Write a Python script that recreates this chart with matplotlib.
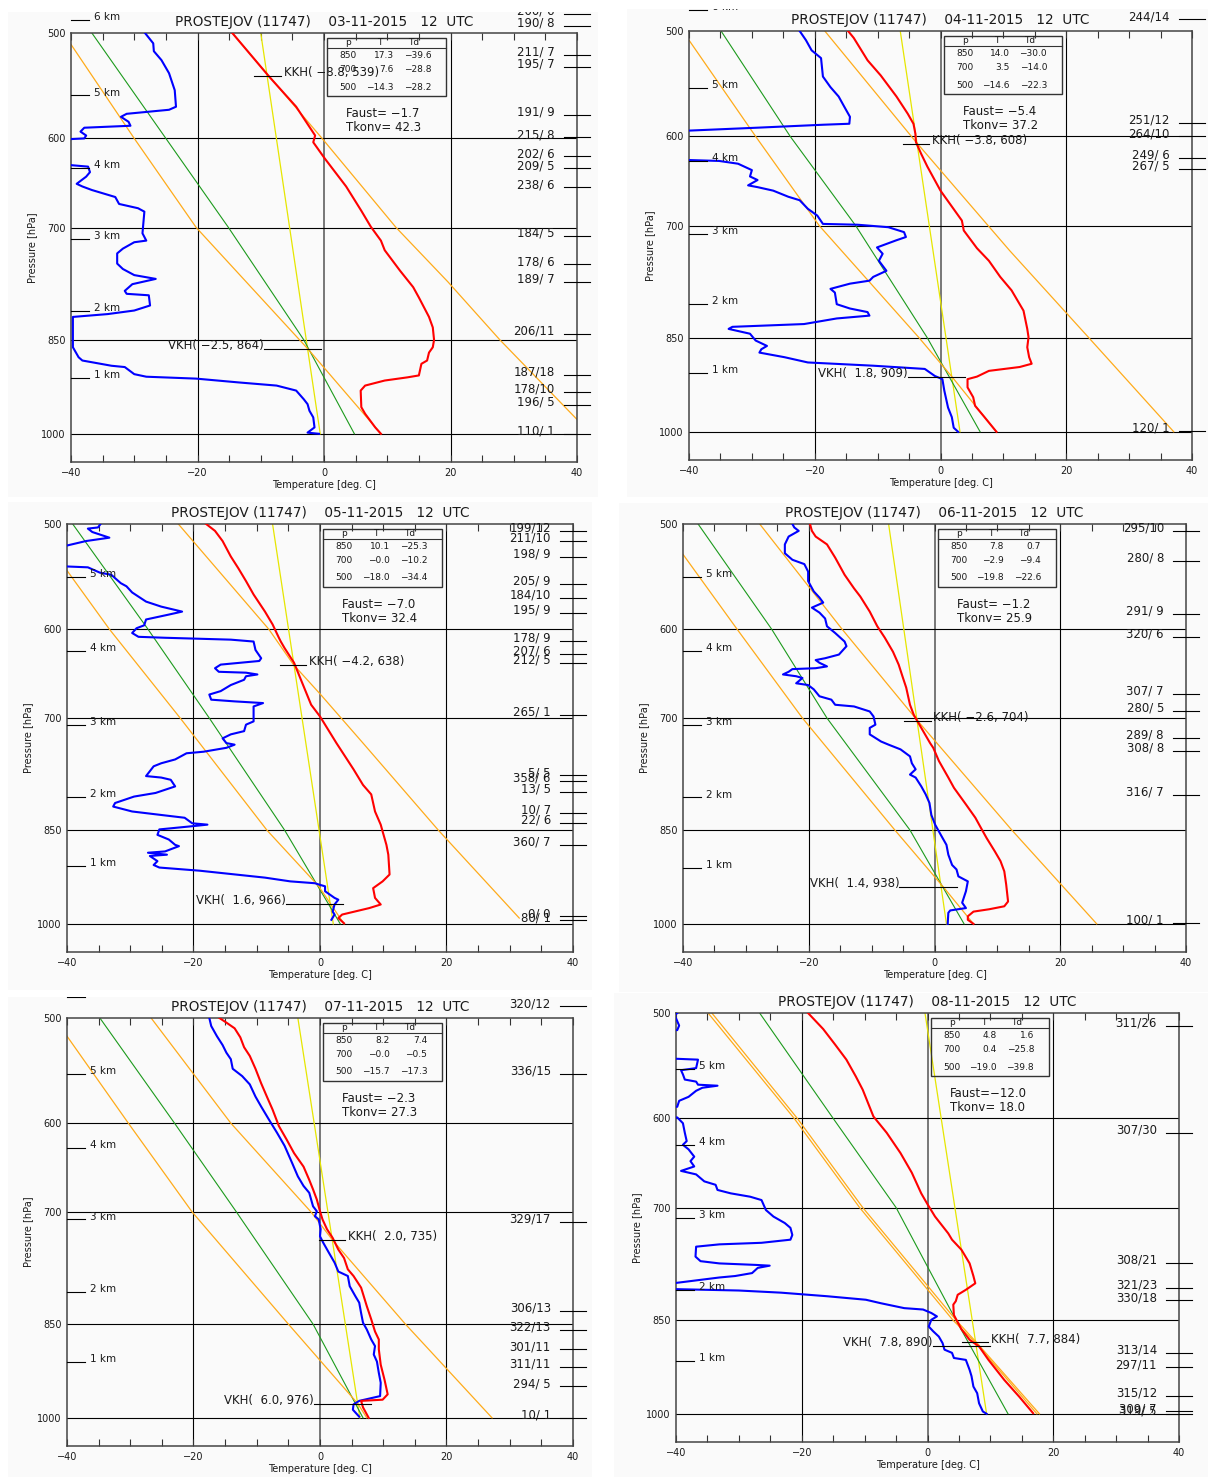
import matplotlib
matplotlib.use("Agg")
import matplotlib.pyplot as plt
from matplotlib.patches import Rectangle
from matplotlib.ticker import FixedLocator, NullLocator, MultipleLocator

plt.rcParams['font.family'] = ['DejaVu Sans']

station = "PROSTEJOV (11747)"
dates = ["03-11-2015", "04-11-2015", "05-11-2015",
         "06-11-2015", "07-11-2015", "08-11-2015"]

# ---------------- 03-11-2015 ----------------
temp_03 = [(500, -14.5), (539, -8.7), (568, -4.4), (597, -1.4), (604, -1.7), (621, 0.1),
           (652, 3.5), (680, 5.9), (699, 7.4), (716, 9.0), (728, 9.6), (754, 12.0),
           (776, 14.1), (790, 15.0), (817, 16.6), (832, 17.2), (850, 17.4), (861, 17.2),
           (869, 16.6), (881, 16.3), (886, 15.4), (904, 15.0), (907, 13.2), (912, 9.6),
           (920, 6.5), (928, 5.8), (955, 5.9), (966, 6.5), (989, 8.1), (1000, 9.0)]
dew_03 = [(500, -28.3), (509, -27.0), (516, -26.9), (524, -25.7), (536, -24.5), (552, -23.6),
          (568, -23.4), (571, -24.5), (575, -31.2), (578, -32.1), (583, -30.9), (587, -30.6),
          (589, -37.9), (593, -38.5), (597, -37.6), (600, -37.9), (602, -44), (626, -44),
          (630, -37.3), (636, -37.0), (641, -37.6), (649, -39.1), (652, -38.2), (656, -36.7),
          (664, -33.0), (672, -32.4), (677, -29.4), (681, -28.4), (707, -28.7), (716, -28.1),
          (718, -30.0), (726, -31.8), (732, -32.7), (745, -32.7), (752, -31.8), (760, -30.0),
          (765, -26.6), (772, -30.3), (781, -31.5), (785, -31.2), (787, -27.7), (801, -27.5),
          (808, -30.0), (813, -34.2), (817, -39.7), (861, -39.7), (876, -38.8), (881, -38.2),
          (889, -33.6), (891, -31.5), (902, -30.0), (906, -28.1), (909, -20.2), (915, -13.5),
          (920, -7.5), (928, -4.4), (942, -3.2), (950, -2.6), (961, -2.3), (972, -1.7),
          (989, -1.5), (998, -2.6), (1000, -0.8)]
yellow_03 = [(500, -10.0), (1000, -0.6)]
green_03 = [(500, -36.7), (600, -25.0), (700, -15.1), (850, -3.2), (1000, 4.8)]
orange_03 = [[(510, -40), (600, -30.0), (700, -20.2), (864, -2.5), (1000, 9.0)],
             [(500, -14.5), (600, -0.3), (700, 11.4), (769, 19.6), (850, 27.8), (1000, 42.2)]]
wind_03 = [("200/ 6", 484), ("190/ 8", 494), ("211/ 7", 519), ("195/ 7", 530),
           ("191/ 9", 576), ("215/ 8", 599), ("202/ 6", 619), ("209/ 5", 632),
           ("238/ 6", 653), ("184/ 5", 710), ("178/ 6", 746), ("189/ 7", 769),
           ("206/11", 841), ("187/18", 903), ("178/10", 930), ("196/ 5", 951),
           ("110/ 1", 1000)]
km_03 = [(6, 489), (5, 557), (4, 631), (3, 714), (2, 809), (1, 908)]
table_03 = [(850, 17.3, -39.6), (700, 7.6, -28.8), (500, -14.3, -28.2)]
index_03 = (-1.7, 42.3)
kkh_03 = (-8.8, 539)
vkh_03 = (-2.5, 864)

# ---------------- 04-11-2015 ----------------
temp_04 = [(500, -14.7), (506, -13.8), (526, -11.6), (540, -9.5), (560, -7.0), (577, -5.2),
           (587, -4.3), (597, -4.0), (606, -3.9), (618, -3.1), (632, -2.1), (659, 0.0),
           (694, 3.4), (706, 3.7), (728, 5.8), (744, 7.7), (765, 9.5), (783, 11.3),
           (811, 13.2), (837, 13.8), (849, 14.0), (864, 13.8), (879, 14.1), (889, 14.5),
           (894, 12.6), (900, 7.7), (909, 5.8), (913, 4.3), (926, 4.3), (942, 5.2),
           (956, 5.5), (975, 7.0), (1000, 8.9)]
dew_04 = [(500, -22.4), (508, -21.4), (517, -20.5), (524, -19.0), (541, -18.7), (551, -17.5),
          (560, -16.2), (570, -15.3), (580, -14.4), (587, -14.5), (588, -18.7), (591, -29.1),
          (594, -40), (595, -45), (624, -45), (626, -35.2), (629, -32.2), (636, -30.0),
          (643, -30.3), (647, -29.1), (653, -30.6), (655, -29.1), (659, -26.6), (666, -24.2),
          (670, -22.4), (680, -21.1), (688, -19.6), (698, -18.7), (699, -13.2), (702, -8.3),
          (708, -5.8), (714, -5.5), (718, -7.0), (727, -10.1), (735, -9.2), (744, -9.8),
          (757, -8.6), (765, -10.7), (770, -11.3), (774, -14.4), (781, -17.5), (786, -16.8),
          (802, -16.5), (808, -14.4), (813, -11.6), (818, -11.3), (822, -16.5), (830, -21.7),
          (834, -33.1), (837, -33.7), (844, -30.3), (854, -29.4), (862, -27.6), (867, -28.5),
          (872, -28.8), (879, -24.8), (887, -21.1), (892, -10.7), (897, -2.5), (908, -0.9),
          (913, 0.3), (931, 0.6), (959, 1.2), (975, 1.8), (993, 2.1), (1000, 2.8)]
yellow_04 = [(500, -6.4), (1000, 3.1)]
green_04 = [(500, -34.9), (600, -23.9), (700, -13.5), (850, -2.1), (1000, 6.3)]
orange_04 = [[(508, -40), (600, -29.4), (700, -19.3), (850, -3.4), (909, 1.8), (1000, 8.9)],
             [(500, -18.4), (605, -4.0), (731, 11.0), (850, 23.6), (1000, 37.1)]]
wind_04 = [("244/14", 490), ("251/12", 586), ("264/10", 600), ("249/ 6", 623),
           ("267/ 5", 635), ("120/ 1", 998)]
km_04 = [(6, 482), (5, 552), (4, 626), (3, 710), (2, 802), (1, 903)]
table_04 = [(850, 14.0, -30.0), (700, 3.5, -14.0), (500, -14.6, -22.3)]
index_04 = (-5.4, 37.2)
kkh_04 = (-3.8, 608)
vkh_04 = (1.8, 909)

# ---------------- 05-11-2015 ----------------
temp_05 = [(500, -18.0), (506, -16.6), (515, -15.4), (529, -14.1), (540, -12.9), (552, -11.7),
           (565, -10.5), (582, -8.7), (595, -7.5), (609, -6.5), (613, -6.2), (620, -5.6),
           (636, -4.1), (657, -2.9), (684, -1.4), (698, 0.0), (731, 2.6), (765, 5.3),
           (786, 6.8), (799, 8.1), (823, 8.7), (842, 9.6), (852, 9.9), (872, 10.5),
           (887, 10.8), (918, 11.0), (929, 9.9), (940, 8.4), (956, 8.7), (967, 9.6),
           (973, 7.8), (984, 3.5), (990, 2.9), (999, 3.8)]
dew_05 = [(500, -34.7), (503, -35.1), (504, -36.7), (507, -36.0), (512, -33.3), (515, -37.0),
          (519, -40), (520, -45), (537, -45), (539, -36.7), (544, -34.8), (546, -33.0),
          (554, -31.5), (557, -30.6), (563, -29.7), (572, -27.5), (577, -25.1), (582, -21.8),
          (585, -23.9), (590, -27.5), (596, -27.8), (599, -29.0), (604, -29.7), (608, -28.7),
          (609, -24.5), (611, -14.1), (613, -10.5), (622, -10.2), (631, -9.3), (634, -9.6),
          (638, -15.7), (642, -16.6), (646, -16.0), (647, -11.7), (649, -9.9), (651, -11.7),
          (655, -12.0), (661, -14.1), (668, -15.7), (672, -17.5), (678, -17.2), (680, -13.5),
          (682, -9.0), (686, -10.5), (704, -10.5), (708, -11.7), (716, -12.0), (720, -14.1),
          (725, -15.4), (731, -14.8), (733, -13.5), (737, -14.8), (742, -18.4), (744, -21.1),
          (752, -22.9), (757, -25.1), (761, -26.3), (774, -27.5), (776, -25.1), (779, -23.6),
          (788, -22.9), (797, -26.0), (802, -29.4), (811, -32.4), (816, -32.7), (823, -29.7),
          (828, -25.1), (832, -21.4), (840, -20.2), (842, -17.8), (844, -19.9), (849, -25.4),
          (857, -25.7), (864, -23.9), (872, -22.9), (874, -22.3), (882, -24.5), (884, -27.2),
          (887, -24.2), (889, -26.9), (897, -25.7), (903, -26.3), (907, -25.4), (912, -19.0),
          (923, -8.7), (929, -4.7), (932, -0.8), (934, -0.2), (937, 0.8), (945, 0.8),
          (956, 2.3), (959, 2.9), (967, 2.3), (979, 2.0), (984, 2.3), (993, 1.8)]
yellow_05 = [(500, -7.5), (1000, 2.1)]
green_05 = [(500, -39.1), (600, -27.2), (700, -17.5), (850, -5.6), (1000, 3.2)]
orange_05 = [[(542, -40), (600, -33.3), (700, -22.1), (850, -8.4), (937, -0.2), (1000, 3.8)],
             [(500, -22.4), (600, -8.1), (638, -4.2), (672, 0.1), (731, 6.8), (850, 18.7),
              (990, 31.5)]]
wind_05 = [("199/12", 506), ("211/10", 515), ("198/ 9", 529), ("205/ 9", 555),
           ("184/10", 568), ("195/ 9", 583), ("178/ 9", 612), ("207/ 6", 626),
           ("212/ 5", 636), ("265/ 1", 696), ("5/ 5", 773), ("358/ 6", 781),
           ("13/ 5", 795), ("10/ 7", 825), ("22/ 6", 840), ("360/ 7", 872),
           ("0/ 0", 987), ("80/ 1", 994)]
km_05 = [(5, 548), (4, 623), (3, 708), (2, 802), (1, 904)]
table_05 = [(850, 10.1, -25.3), (700, -0.0, -10.2), (500, -18.0, -34.4)]
index_05 = (-7.0, 32.4)
kkh_05 = (-4.2, 638)
vkh_05 = (1.6, 966)

# ---------------- 06-11-2015 ----------------
temp_06 = [(500, -19.8), (506, -19.5), (511, -18.9), (518, -17.1), (530, -15.8), (546, -14.3),
           (559, -12.8), (567, -11.8), (582, -10.3), (597, -9.1), (609, -7.9), (624, -6.6),
           (638, -5.7), (651, -5.1), (664, -4.5), (684, -3.9), (696, -3.3), (708, -2.4),
           (731, -0.7), (737, -0.2), (754, 0.7), (776, 2.2), (790, 3.1), (813, 5.0),
           (832, 6.5), (847, 7.4), (862, 8.3), (882, 9.6), (897, 10.5), (913, 11.1),
           (934, 11.4), (962, 11.7), (970, 11.1), (975, 8.7), (979, 6.2), (987, 5.3),
           (993, 5.3), (1000, 6.2)]
dew_06 = [(500, -22.6), (503, -22.3), (506, -21.6), (511, -23.2), (518, -23.8), (526, -23.8),
          (532, -22.6), (536, -20.7), (543, -20.1), (552, -20.1), (562, -19.2), (568, -18.3),
          (573, -17.7), (578, -19.5), (583, -18.3), (589, -17.4), (597, -17.1), (604, -15.8),
          (613, -14.3), (618, -14.0), (627, -15.2), (631, -17.4), (633, -18.9), (636, -18.3),
          (640, -17.1), (642, -18.9), (643, -22.6), (646, -23.2), (649, -24.1), (651, -22.0),
          (653, -21.0), (659, -22.0), (661, -20.1), (666, -19.2), (674, -18.3), (678, -16.4),
          (684, -15.8), (686, -12.8), (692, -10.3), (698, -9.7), (708, -9.4), (712, -10.3),
          (720, -10.3), (729, -8.5), (733, -7.3), (739, -5.4), (748, -3.9), (757, -3.6),
          (765, -3.0), (772, -3.9), (776, -3.0), (788, -2.1), (799, -1.4), (811, -0.8),
          (828, -0.5), (842, 0.1), (852, 0.7), (862, 1.3), (872, 1.9), (887, 2.2),
          (903, 2.8), (910, 3.5), (921, 3.8), (929, 5.3), (945, 5.0), (964, 4.4),
          (973, 5.0), (977, 2.5), (981, 2.2), (1000, 2.1)]
yellow_06 = [(500, -7.3), (1000, 1.9)]
green_06 = [(500, -37.6), (600, -25.9), (700, -17.1), (850, -3.9), (1000, 4.7)]
orange_06 = [[(527, -40), (600, -31.4), (700, -21.0), (850, -6.3), (938, 1.4), (1000, 6.2)],
             [(500, -27.8), (600, -14.7), (704, -2.6), (850, 12.3), (1000, 25.8)]]
wind_06 = [("295/10", 506), ("280/ 8", 533), ("291/ 9", 584), ("320/ 6", 608),
           ("307/ 7", 671), ("280/ 5", 691), ("289/ 8", 724), ("308/ 8", 741),
           ("316/ 7", 800), ("100/ 1", 999)]
km_06 = [(5, 548), (4, 623), (3, 708), (2, 803), (1, 907)]
table_06 = [(850, 7.8, 0.7), (700, -2.9, -9.4), (500, -19.8, -22.6)]
index_06 = (-1.2, 25.9)
kkh_06 = (-2.6, 704)
vkh_06 = (1.4, 938)

# ---------------- 07-11-2015 ----------------
temp_07 = [(500, -15.9), (504, -14.8), (509, -13.5), (517, -12.6), (526, -12.0), (534, -11.1),
           (546, -10.2), (560, -9.3), (573, -8.4), (586, -7.5), (603, -6.5), (617, -5.3),
           (632, -4.1), (647, -2.6), (662, -1.7), (673, -1.1), (685, -0.5), (699, 0.0),
           (709, 0.4), (721, 1.1), (732, 2.0), (747, 2.9), (758, 3.8), (773, 4.4),
           (782, 5.3), (798, 6.5), (824, 7.4), (843, 8.1), (861, 8.7), (873, 9.3),
           (888, 9.3), (912, 9.6), (936, 10.2), (960, 10.7), (969, 9.9), (971, 6.5),
           (982, 6.8), (1000, 7.7)]
dew_07 = [(500, -17.5), (507, -17.2), (516, -16.3), (524, -15.4), (531, -14.8), (537, -14.1),
          (546, -13.8), (553, -12.3), (561, -11.1), (573, -10.2), (583, -9.3), (596, -8.1),
          (610, -6.8), (624, -5.6), (643, -4.4), (658, -3.5), (669, -2.6), (677, -1.7),
          (693, -1.1), (699, -0.5), (705, -0.8), (709, -0.2), (721, 0.1), (730, 0.0),
          (738, 0.5), (751, 1.4), (764, 2.3), (776, 2.9), (782, 4.4), (796, 4.7),
          (810, 5.6), (819, 6.2), (834, 6.5), (848, 6.8), (858, 7.4), (873, 8.1),
          (883, 8.7), (896, 8.5), (907, 9.0), (925, 9.3), (941, 9.6), (963, 9.5),
          (971, 6.2), (977, 5.3), (986, 5.2), (998, 6.2)]
yellow_07 = [(500, -3.5), (1000, 6.3)]
green_07 = [(500, -34.8), (600, -23.0), (700, -13.2), (850, -1.1), (1000, 6.8)]
orange_07 = [[(516, -40), (600, -30.3), (700, -20.2), (850, -5.0), (976, 6.0), (1000, 7.4)],
             [(500, -26.7), (600, -14.1), (700, -1.4), (735, 2.0), (850, 13.5), (1000, 27.2)]]
wind_07 = [("320/12", 490), ("336/15", 551), ("329/17", 712), ("306/13", 831),
           ("322/13", 859), ("301/11", 888), ("311/11", 916), ("294/ 5", 947),
           ("10/ 1", 1000)]
km_07 = [(6, 482), (5, 551), (4, 626), (3, 709), (2, 804), (1, 908)]
table_07 = [(850, 8.2, 7.4), (700, -0.0, -0.5), (500, -15.7, -17.3)]
index_07 = (-2.3, 27.3)
kkh_07 = (2.0, 735)
vkh_07 = (6.0, 976)

# ---------------- 08-11-2015 ----------------
temp_08 = [(500, -19.0), (514, -16.6), (528, -14.7), (542, -12.9), (558, -11.4), (571, -10.3),
           (598, -8.6), (615, -6.5), (637, -4.3), (659, -2.5), (683, -1.0), (696, 0.0),
           (711, 1.2), (732, 3.3), (740, 3.9), (753, 5.4), (771, 6.7), (788, 7.3),
           (798, 7.6), (807, 6.1), (814, 4.8), (823, 4.5), (828, 4.1), (843, 4.2),
           (864, 5.4), (880, 6.7), (890, 8.2), (911, 9.7), (943, 12.2), (971, 14.6),
           (999, 16.8)]
dew_08 = [(500, -39.8), (502, -40.2), (511, -39.5), (515, -39.8), (517, -45), (540, -45),
          (542, -36.5), (550, -36.8), (552, -39.2), (556, -38.9), (561, -38.6), (563, -36.8),
          (566, -36.5), (567, -33.4), (569, -35.8), (572, -36.8), (578, -38.0), (582, -39.5),
          (588, -39.8), (590, -45), (598, -45), (599, -39.8), (605, -38.9), (615, -38.6),
          (624, -38.3), (628, -38.9), (633, -38.0), (641, -37.1), (646, -37.7), (652, -37.1),
          (657, -39.2), (661, -36.8), (669, -35.5), (673, -33.7), (679, -33.4), (683, -31.3),
          (687, -28.2), (691, -26.4), (703, -25.7), (711, -24.5), (719, -22.7), (725, -21.8),
          (734, -21.5), (740, -21.8), (744, -26.4), (746, -33.1), (749, -36.8), (762, -36.9),
          (768, -36.1), (771, -33.1), (773, -27.3), (774, -25.1), (777, -27.0), (784, -27.9),
          (788, -30.6), (790, -33.1), (798, -40.5), (806, -40.5), (808, -30.0), (811, -23.3),
          (816, -16.0), (821, -9.8), (826, -7.4), (833, -3.7), (835, -0.7), (840, 0.6),
          (845, 1.5), (850, 0.6), (860, 0.2), (867, 0.9), (875, 1.8), (885, 2.4),
          (895, 2.7), (900, 3.9), (908, 4.2), (911, 6.1), (919, 6.4), (927, 6.7),
          (937, 7.0), (954, 7.3), (965, 7.9), (982, 8.2), (996, 8.8), (1000, 9.4)]
yellow_08 = [(500, -0.4), (1000, 9.4)]
green_08 = [(500, -26.7), (600, -15.0), (700, -5.0), (850, 4.5), (1000, 12.8)]
orange_08 = [[(500, -34.9), (600, -21.2), (700, -10.8), (850, 4.0), (884, 7.6), (1000, 17.4)],
             [(500, -34.3), (600, -20.7), (700, -10.3), (850, 4.5), (884, 7.8), (1000, 17.8)]]
wind_08 = [("311/26", 511), ("307/30", 615), ("308/21", 770), ("321/23", 804),
           ("330/18", 822), ("313/14", 900), ("297/11", 923), ("315/12", 969),
           ("309/ 7", 996), ("319/ 5", 1000)]
km_08 = [(5, 551), (4, 628), (3, 713), (2, 807), (1, 912)]
table_08 = [(850, 4.8, 1.6), (700, 0.4, -25.8), (500, -19.0, -39.8)]
index_08 = (-12.0, 18.0)
kkh_08 = (7.7, 884)
vkh_08 = (7.8, 890)

# layout (pixels): axes box (left, top, right, bottom) and background tile
W, H = 1208, 1477
axes_px = [(71, 33, 577, 462), (689, 31, 1192, 460), (67, 524, 573, 952),
           (683, 524, 1186, 952), (67, 1018, 573, 1446), (676, 1013, 1179, 1442)]
tiles_px = [(8, 12, 598, 497), (627, 9, 1208, 497), (8, 502, 592, 990),
            (619, 503, 1208, 992), (8, 997, 592, 1477), (614, 993, 1208, 1477)]

panels = [
    (temp_03, dew_03, yellow_03, green_03, orange_03, wind_03, km_03, table_03, index_03, kkh_03, vkh_03),
    (temp_04, dew_04, yellow_04, green_04, orange_04, wind_04, km_04, table_04, index_04, kkh_04, vkh_04),
    (temp_05, dew_05, yellow_05, green_05, orange_05, wind_05, km_05, table_05, index_05, kkh_05, vkh_05),
    (temp_06, dew_06, yellow_06, green_06, orange_06, wind_06, km_06, table_06, index_06, kkh_06, vkh_06),
    (temp_07, dew_07, yellow_07, green_07, orange_07, wind_07, km_07, table_07, index_07, kkh_07, vkh_07),
    (temp_08, dew_08, yellow_08, green_08, orange_08, wind_08, km_08, table_08, index_08, kkh_08, vkh_08),
]

TXT = '#1a1a1a'


def m(s):
    return s.replace('-', '\u2212')


def xy(pairs):
    return [q[1] for q in pairs], [q[0] for q in pairs]


def outside(artist, tile):
    artist.set_clip_on(True)
    artist.set_clip_path(tile)


fig = plt.figure(figsize=(W / 100, H / 100), dpi=100)
fig.patch.set_facecolor('white')

for k, (temp, dew, yel, grn, orng, wind, km, table, index, kkh, vkh) in enumerate(panels):
    l, t, r, b = axes_px[k]
    tl, tt, tr, tb = tiles_px[k]
    tile = Rectangle((tl / W, 1 - tb / H), (tr - tl) / W, (tb - tt) / H,
                     transform=fig.transFigure, facecolor='#fafafa', edgecolor='none', zorder=-10)
    fig.add_artist(tile)

    ax = fig.add_axes([l / W, 1 - b / H, (r - l) / W, (b - t) / H])
    ax.set_facecolor('none')
    ax.set_yscale('log')
    ax.set_xlim(-40, 40)
    ax.set_ylim(1050, 500)
    ax.yaxis.set_major_locator(FixedLocator([500, 600, 700, 850, 1000]))
    ax.yaxis.set_minor_locator(NullLocator())
    ax.set_yticklabels(['500', '600', '700', '850', '1000'])
    ax.xaxis.set_major_locator(MultipleLocator(20))
    ax.xaxis.set_minor_locator(MultipleLocator(5))
    ax.tick_params(axis='y', length=0, pad=4, labelsize=7, labelcolor=TXT)
    ax.tick_params(axis='x', which='both', direction='in', top=True, bottom=True,
                   length=5, width=0.8, color='#333333', pad=4, labelsize=7, labelcolor=TXT)
    for sp in ax.spines.values():
        sp.set_color('#444444')
        sp.set_linewidth(1.1)

    ax.set_title(f"{station}    {dates[k]}   12  UTC", fontsize=9.8, color=TXT, pad=5)
    ax.set_xlabel("Temperature [deg. C]", fontsize=7, color=TXT, labelpad=2)
    ax.set_ylabel("Pressure [hPa]", fontsize=7, color=TXT, labelpad=3)

    # grid
    for xv in (-20, 20):
        ax.axvline(xv, color='black', lw=0.8, zorder=1)
    ax.axvline(0, color='#777777', lw=1.4, zorder=1)
    for pv in (600, 700, 850, 1000):
        ax.axhline(pv, color='black', lw=0.8, zorder=1)

    # reference lines
    ax.plot(*xy(yel), color='#e6e600', lw=0.9, zorder=2)
    ax.plot(*xy(grn), color='#1c9a1c', lw=0.8, zorder=2)
    for o in orng:
        ax.plot(*xy(o), color='#ffab1a', lw=0.9, zorder=2)

    # profiles
    ax.plot(*xy(dew), color='#0000ff', lw=1.5, zorder=3)
    ax.plot(*xy(temp), color='#ff0000', lw=1.5, zorder=4)

    # height markers
    for h, p in km:
        ln, = ax.plot([-40, -37.1], [p, p], color='black', lw=0.8, clip_on=False, zorder=5)
        outside(ln, tile)
        a = ax.annotate(f"{h} km", xy=(-36.4, p), xytext=(0, 2), textcoords='offset points',
                        ha='left', va='center', fontsize=7.5, color=TXT, annotation_clip=False)
        outside(a, tile)

    # winds
    for lab, p in wind:
        ln, = ax.plot([37.9, 42.1], [p, p], color='black', lw=0.8, clip_on=False, zorder=5)
        outside(ln, tile)
        a = ax.annotate(lab, xy=(36.5, p), xytext=(0, 2), textcoords='offset points',
                        ha='right', va='center', fontsize=8.5, color=TXT, annotation_clip=False)
        outside(a, tile)

    # KKH / VKH
    tk, pk = kkh
    ax.plot([tk - 2.2, tk + 2.0], [pk, pk], color='black', lw=0.8, zorder=5)
    ax.annotate(m(f"KKH({tk:5.1f},{pk:4d})"), xy=(tk + 2.4, pk), xytext=(0, 2.5),
                textcoords='offset points', ha='left', va='center', fontsize=8.5,
                color=TXT, annotation_clip=False)
    tv, pv = vkh
    ax.plot([tv - 7.0, tv + 2.1], [pv, pv], color='black', lw=0.8, zorder=5)
    ax.annotate(m(f"VKH({tv:5.1f},{pv:4d})"), xy=(tv - 7.0, pv), xytext=(0, 2.5),
                textcoords='offset points', ha='right', va='center', fontsize=8.5,
                color=TXT, annotation_clip=False)

    # table
    ax.add_patch(Rectangle((0.506, 0.852), 0.235, 0.137, transform=ax.transAxes,
                           facecolor='none', edgecolor='#333333', lw=1.0, zorder=6))
    ax.plot([0.506, 0.741], [0.965, 0.965], transform=ax.transAxes, color='#333333', lw=0.8, zorder=6)
    hk = dict(transform=ax.transAxes, fontsize=6.5, color=TXT, va='center', zorder=7)
    ax.text(0.548, 0.977, "p", ha='center', **hk)
    ax.text(0.611, 0.977, "T", ha='center', **hk)
    ax.text(0.677, 0.977, "Td", ha='center', **hk)
    for (pp, tt_, td_), yy in zip(table, (0.948, 0.914, 0.874)):
        ax.text(0.548, yy, f"{pp}", ha='center', **hk)
        ax.text(0.638, yy, m(f"{tt_:.1f}"), ha='right', **hk)
        ax.text(0.712, yy, m(f"{td_:.1f}"), ha='right', **hk)

    faust, tkonv = index
    ax.text(0.544, 0.812, m(f"Faust={faust:5.1f}"), transform=ax.transAxes, fontsize=8.5,
            color=TXT, ha='left', va='center', zorder=7)
    ax.text(0.544, 0.779, m(f"Tkonv={tkonv:5.1f}"), transform=ax.transAxes, fontsize=8.5,
            color=TXT, ha='left', va='center', zorder=7)

fig.savefig("out.png", dpi=100)
